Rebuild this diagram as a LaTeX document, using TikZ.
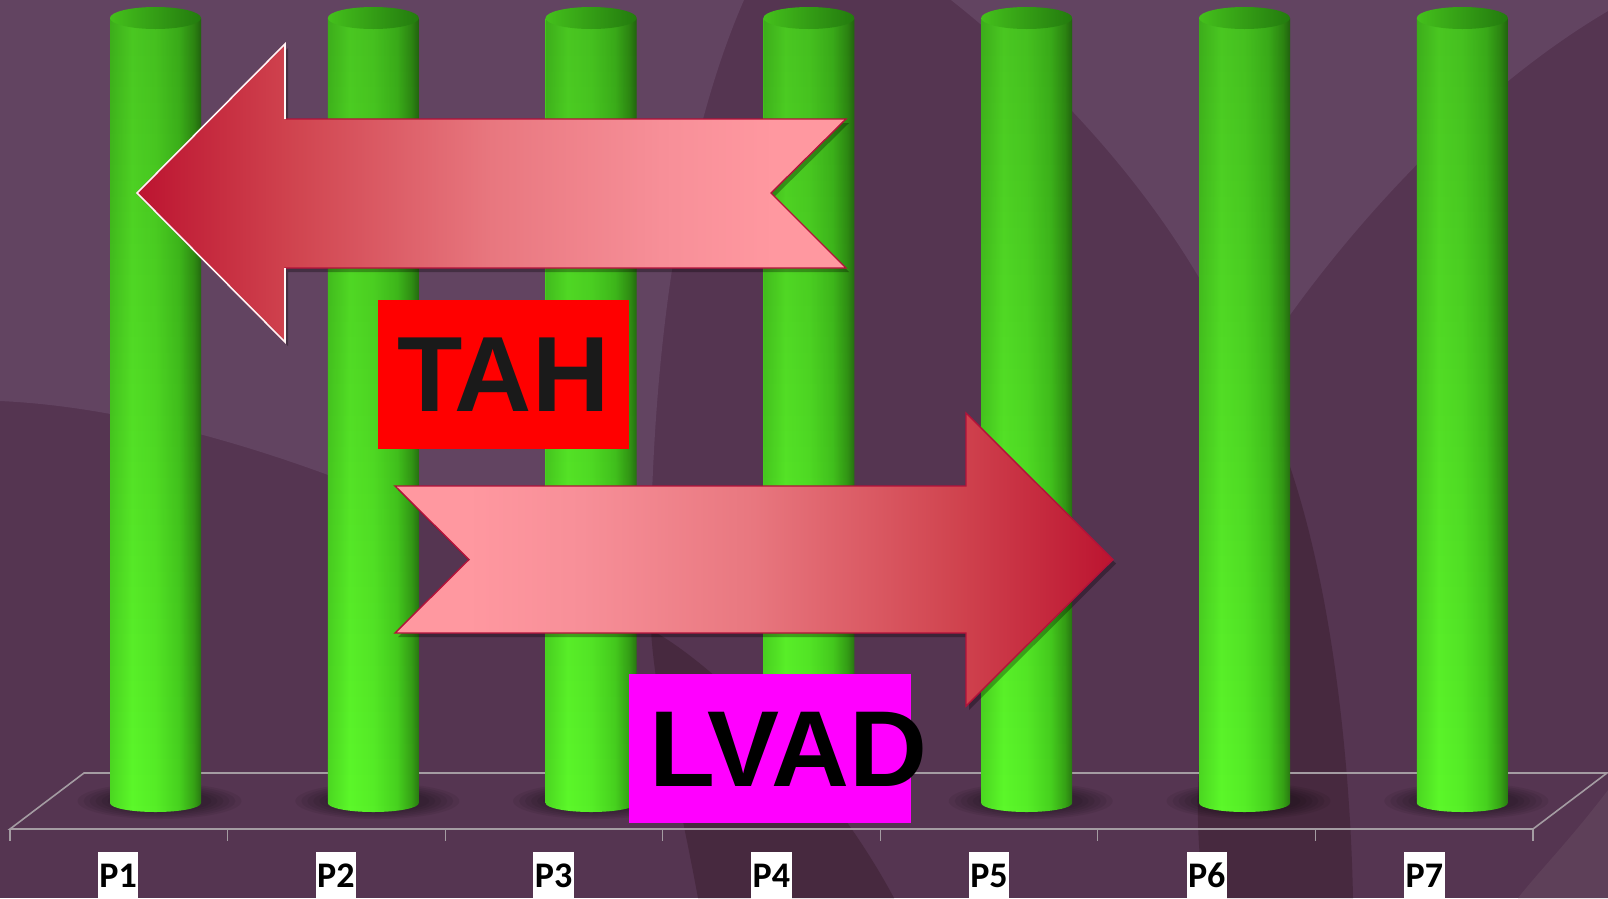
\documentclass[tikz,border=0pt]{standalone}
\usepackage{fontspec}
\newfontfamily\arialfont{Liberation Sans}
\newfontfamily\calfont{Carlito}
\usetikzlibrary{shadows,fadings}

\definecolor{bgmid}{HTML}{553551}
\definecolor{bglight}{HTML}{624461}
\definecolor{bgdark}{HTML}{47293F}
\definecolor{bgcorner}{HTML}{5E4059}
\definecolor{cylA}{HTML}{4CD822}
\definecolor{cylB}{HTML}{5CF82A}
\definecolor{cylC}{HTML}{56EE27}
\definecolor{cylD}{HTML}{47D21F}
\definecolor{cylE}{HTML}{36A316}
\definecolor{cylF}{HTML}{2A7A12}
\definecolor{topL}{HTML}{44C01C}
\definecolor{topR}{HTML}{237A0E}
\definecolor{arA}{HTML}{BC1430}
\definecolor{arB}{HTML}{D0444F}
\definecolor{arC}{HTML}{E8777F}
\definecolor{arD}{HTML}{F78F98}
\definecolor{arE}{HTML}{FF98A0}
\definecolor{arredge}{HTML}{B3123A}
\definecolor{floorgrey}{HTML}{A49CA2}
\definecolor{tahtext}{HTML}{1A1A1A}
\definecolor{lvadmag}{HTML}{FF00FF}
\definecolor{tahred}{HTML}{FF0000}

\pgfdeclarehorizontalshading{cylbody}{100bp}{color(0bp)=(cylA); color(25bp)=(cylA); color(37bp)=(cylB); color(50bp)=(cylC); color(63bp)=(cylD); color(71bp)=(cylE); color(75bp)=(cylF); color(100bp)=(cylF)}
\pgfdeclarehorizontalshading{arrowleft}{100bp}{color(0bp)=(arA); color(25bp)=(arA); color(36bp)=(arB); color(50bp)=(arC); color(62bp)=(arD); color(70bp)=(arE); color(100bp)=(arE)}
\pgfdeclarehorizontalshading{arrowright}{100bp}{color(0bp)=(arE); color(30bp)=(arE); color(38bp)=(arD); color(50bp)=(arC); color(64bp)=(arB); color(75bp)=(arA); color(100bp)=(arA)}

\begin{document}
\begin{tikzpicture}[x=1pt,y=-1pt,
  floorline/.style={draw=floorgrey,line width=1.6pt},
  arrowbody/.style={draw=arredge,line width=1.4pt,line join=miter,
     drop shadow={shadow xshift=3pt,shadow yshift=-4pt,opacity=0.3,fill=black}},
  plab/.style={fill=white,inner xsep=1.5pt,inner ysep=0pt,anchor=base,
     text height=35pt,text depth=16pt,font=\calfont\bfseries\fontsize{36}{40}\selectfont},
  tahbox/.style={fill=tahred,minimum width=251.6pt,minimum height=148.7pt,inner sep=0pt,
     text=tahtext,font=\arialfont\bfseries\fontsize{107}{110}\selectfont},
  lvadbox/.style={fill=lvadmag,minimum width=282pt,minimum height=148.7pt,inner sep=0pt},
  lvadtext/.style={inner sep=0pt,text=black,font=\arialfont\bfseries\fontsize{108}{110}\selectfont}
]
\useasboundingbox (0,0) rectangle (1608,898);
\clip (0,0) rectangle (1608,898);

% background
\fill[bgmid] (0,0) rectangle (1608,898);
\fill[bglight] (0,0) -- (744,0) .. controls (700,100) and (645,300) .. (651,630)
   .. controls (450,510) and (200,410) .. (0,401) -- cycle;
\fill[bglight] (951,0) .. controls (1090,110) and (1200,250) .. (1248,379)
   .. controls (1300,290) and (1440,110) .. (1608,11) -- (1608,0) -- cycle;
\fill[bgdark] (651,630) .. controls (700,655) and (820,760) .. (894,898) -- (698,898)
   .. controls (680,800) and (655,700) .. (651,630) -- cycle;
\fill[bgdark] (1287,458) .. controls (1330,580) and (1350,750) .. (1353,898) -- (1205,898)
   .. controls (1185,780) and (1205,600) .. (1287,458) -- cycle;
\fill[bgcorner] (1608,790) .. controls (1570,840) and (1540,870) .. (1518,898) -- (1608,898) -- cycle;

% floor
\draw[floorline] (84,773) -- (1607,773) -- (1533,829) -- (10,829) -- cycle;
\foreach \k in {0,...,7}{
  \draw[floorline,line width=1.2pt] ({10+217.57*\k},829) -- ({10+217.57*\k},841);
}

% cylinder shadows (soft)
\foreach \i in {0,...,6}{
  \pgfmathsetmacro\cx{155.5+217.8*\i}
  \foreach \r/\s in {82/18,76/16.5,70/15,64/13.5,58/12,52/10.5}{
    \fill[black,opacity=0.065] (\cx+4,801) ellipse[x radius=\r pt,y radius=\s pt];
  }
}

% cylinders
\foreach \i in {0,...,6}{
  \pgfmathsetmacro\cx{155.5+217.8*\i}
  \shade[shading=cylbody] (\cx-45.5,18) -- (\cx-45.5,803)
     arc[start angle=180,end angle=360,x radius=45.5pt,y radius=9pt] -- (\cx+45.5,18) -- cycle;
  \fill[black,opacity=0.2,path fading=south] (\cx-45.5,18) -- (\cx-45.5,803)
     arc[start angle=180,end angle=360,x radius=45.5pt,y radius=9pt] -- (\cx+45.5,18) -- cycle;
  \shade[left color=topL,right color=topR] (\cx,18) ellipse[x radius=45.5pt,y radius=11pt];
}

% TAH arrow (pointing left)
\path[arrowbody,shading=arrowleft]
  (137,193) -- (285,44) -- (285,119) -- (846,119) -- (771,193) -- (846,268)
  -- (285,268) -- (285,342) -- cycle;
\draw[white!85!pink,line width=1.6pt,line join=miter]
  (285,119) -- (285,44) -- (137,193) -- (285,342) -- (285,268);

% LVAD arrow (pointing right)
\path[arrowbody,shading=arrowright]
  (395,486) -- (966,486) -- (966,413) -- (1113,559.5) -- (966,706) -- (966,633)
  -- (395,633) -- (469,559.5) -- cycle;

% boxes
\node[tahbox] (tah) at (503.5,374.4) {TAH};
\node[lvadbox] (lvad) at (770,748.4) {};
\node[lvadtext] (lvadt) at (788,749.5) {LVAD};

% axis labels
\foreach \i in {1,...,7}{
  \node[plab] (p\i) at ({118.2+217.7*(\i-1)},887) {P\i};
}
\end{tikzpicture}
\end{document}
